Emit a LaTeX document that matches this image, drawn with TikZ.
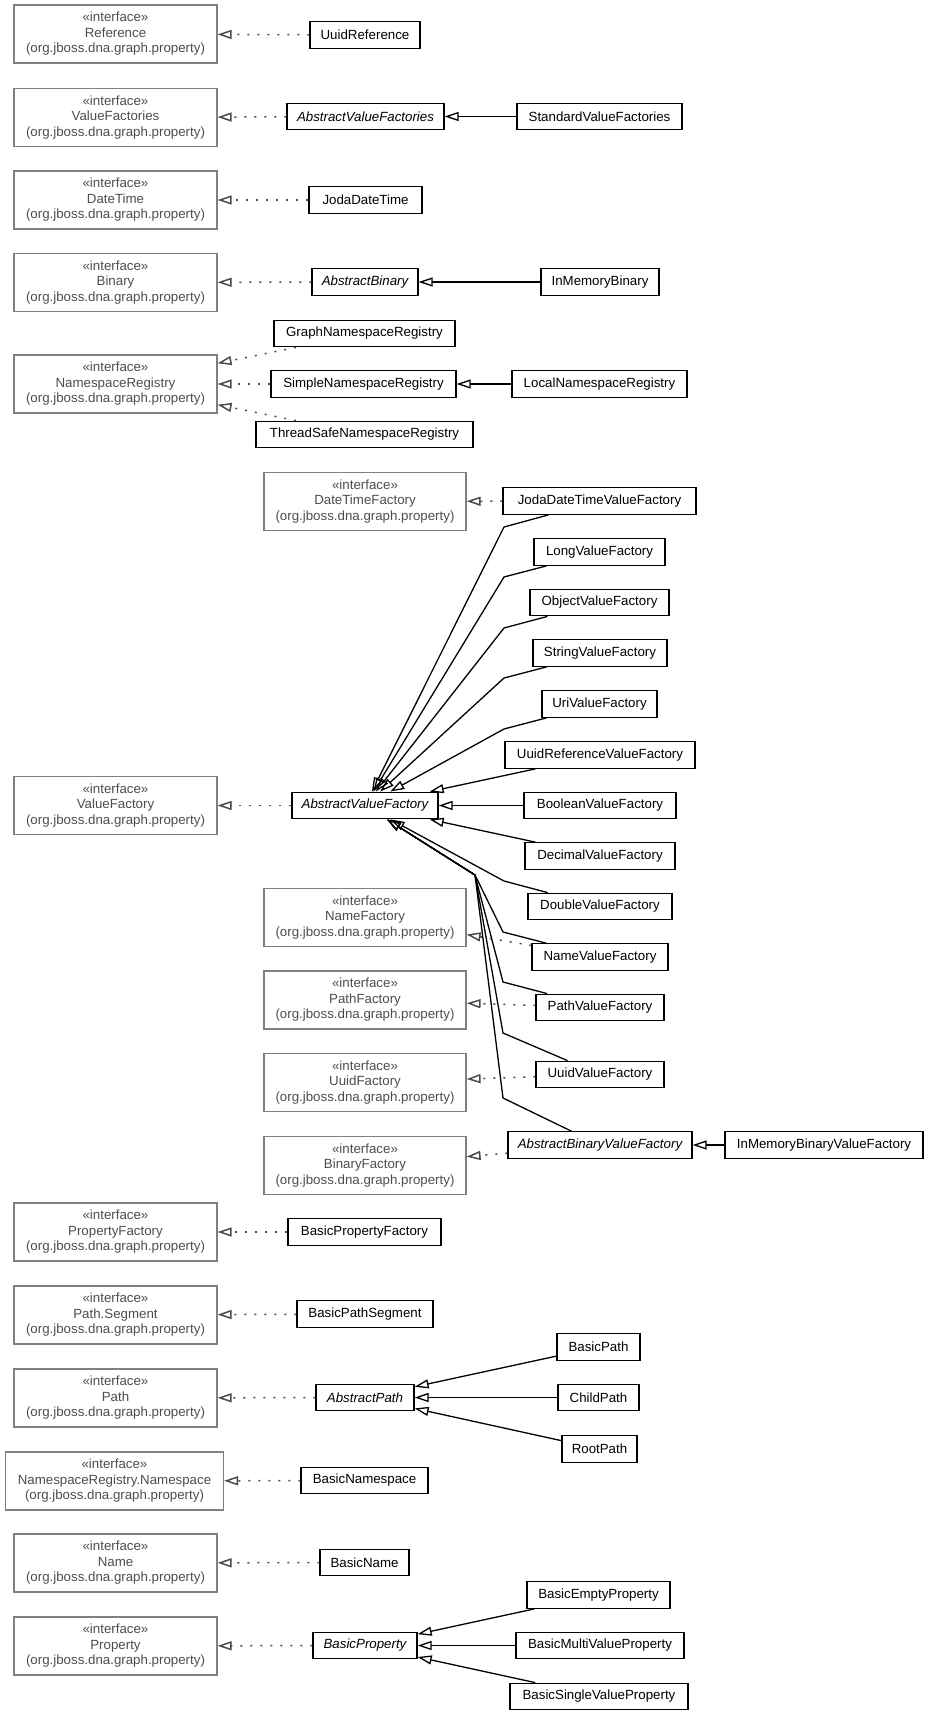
\documentclass[tikz,border=0pt]{standalone}
\usepackage{fontspec}
\setmainfont{Liberation Sans}
\usepackage{tikz}
\usetikzlibrary{arrows.meta,calc}
\definecolor{ifdraw}{HTML}{808080}
\definecolor{iftext}{HTML}{4D4D4D}
\definecolor{dotln}{HTML}{4A4A4A}
\newcommand{\ifacelabel}[1]{«interface»\\#1\\(org.jboss.dna.graph.property)}
\tikzset{
  iface/.style={rectangle, draw=ifdraw, line width=1.2pt, text=iftext, align=center,
                inner sep=0pt, minimum width=203pt, minimum height=58pt,
                font=\fontsize{13.3}{15.5}\selectfont},
  cls/.style={rectangle, draw=black, line width=1.3pt, align=center, inner sep=0pt,
              minimum height=26.5pt, font=\fontsize{13.3}{15.5}\selectfont},
  acls/.style={cls, font=\fontsize{13.3}{15.5}\selectfont\itshape},
  impl/.style={-{Triangle[open, length=14pt, width=9pt]}, draw=dotln, line width=1.5pt,
               dash pattern=on 2pt off 8pt},
  inh/.style={-{Triangle[open, length=14pt, width=9pt]}, draw=black, line width=1.3pt}
}
\begin{document}
\begin{tikzpicture}[x=1pt, y=-1pt]
\useasboundingbox (0,0) rectangle (928,1715);
% interfaces
\node[iface] (iref) at (115.5,34) {\ifacelabel{Reference}};
\node[iface] (ivfs) at (115.5,117.5) {\ifacelabel{ValueFactories}};
\node[iface] (idt) at (115.5,200) {\ifacelabel{DateTime}};
\node[iface] (ibin) at (115.5,282.5) {\ifacelabel{Binary}};
\node[iface] (insr) at (115.5,384) {\ifacelabel{NamespaceRegistry}};
\node[iface] (ivf) at (115.5,805.5) {\ifacelabel{ValueFactory}};
\node[iface] (ipf) at (115.5,1232) {\ifacelabel{PropertyFactory}};
\node[iface] (iseg) at (115.5,1315) {\ifacelabel{Path.Segment}};
\node[iface] (ipath) at (115.5,1398) {\ifacelabel{Path}};
\node[iface, minimum width=218pt] (ins) at (114.5,1481) {\ifacelabel{NamespaceRegistry.Namespace}};
\node[iface] (iname) at (115.5,1563) {\ifacelabel{Name}};
\node[iface] (iprop) at (115.5,1646) {\ifacelabel{Property}};
\node[iface, minimum width=202pt] (idtf) at (365,501.5) {\ifacelabel{DateTimeFactory}};
\node[iface, minimum width=202pt] (inf) at (365,917.5) {\ifacelabel{NameFactory}};
\node[iface, minimum width=202pt] (ipthf) at (365,1000) {\ifacelabel{PathFactory}};
\node[iface, minimum width=202pt] (iuf) at (365,1082.5) {\ifacelabel{UuidFactory}};
\node[iface, minimum width=202pt] (ibf) at (365,1165.5) {\ifacelabel{BinaryFactory}};
% classes
\node[cls, minimum width=110pt] (uref) at (365,35) {UuidReference};
\node[acls, minimum width=157pt] (avfs) at (365.5,116.5) {AbstractValueFactories};
\node[cls, minimum width=165pt] (svfs) at (599.5,116.5) {StandardValueFactories};
\node[cls, minimum width=113pt] (jdt) at (365.5,200) {JodaDateTime};
\node[acls, minimum width=106pt] (abin) at (365,282) {AbstractBinary};
\node[cls, minimum width=118pt] (imbin) at (600,282) {InMemoryBinary};
\node[cls, minimum width=181pt] (gnsr) at (364.5,333.5) {GraphNamespaceRegistry};
\node[cls, minimum width=185pt] (snsr) at (363.5,384) {SimpleNamespaceRegistry};
\node[cls, minimum width=175pt] (lnsr) at (599.5,384) {LocalNamespaceRegistry};
\node[cls, minimum width=217pt] (tnsr) at (364.5,434.5) {ThreadSafeNamespaceRegistry};
\node[cls, minimum width=193pt] (jdtvf) at (599.5,501) {JodaDateTimeValueFactory};
\node[cls, minimum width=131pt] (lvf) at (599.5,552) {LongValueFactory};
\node[cls, minimum width=139pt] (ovf) at (599.5,602.5) {ObjectValueFactory};
\node[cls, minimum width=134pt] (svf) at (600,653) {StringValueFactory};
\node[cls, minimum width=115pt] (urivf) at (599.5,704) {UriValueFactory};
\node[cls, minimum width=190pt] (urvf) at (600,755) {UuidReferenceValueFactory};
\node[acls, minimum width=146pt] (avf) at (365,805.5) {AbstractValueFactory};
\node[cls, minimum width=152pt] (bvf) at (600,805.5) {BooleanValueFactory};
\node[cls, minimum width=150pt] (dvf) at (600,856) {DecimalValueFactory};
\node[cls, minimum width=144pt] (dbvf) at (600,906.5) {DoubleValueFactory};
\node[cls, minimum width=136pt] (nvf) at (600,957) {NameValueFactory};
\node[cls, minimum width=128pt] (pvf) at (600,1007.5) {PathValueFactory};
\node[cls, minimum width=128pt] (uvf) at (600,1074.5) {UuidValueFactory};
\node[acls, minimum width=184pt] (abvf) at (600,1145) {AbstractBinaryValueFactory};
\node[cls, minimum width=198pt] (imbvf) at (824,1145) {InMemoryBinaryValueFactory};
\node[cls, minimum width=153pt] (bpf) at (364.5,1232) {BasicPropertyFactory};
\node[cls, minimum width=136pt] (bps) at (365,1314) {BasicPathSegment};
\node[acls, minimum width=98pt] (apath) at (365,1397.5) {AbstractPath};
\node[cls, minimum width=83pt] (bpath) at (598.5,1347) {BasicPath};
\node[cls, minimum width=81pt] (cpath) at (598.5,1397.5) {ChildPath};
\node[cls, minimum width=75pt] (rpath) at (599.5,1449) {RootPath};
\node[cls, minimum width=127pt] (bns) at (364.5,1480.5) {BasicNamespace};
\node[cls, minimum width=89pt] (bname) at (364.5,1562.5) {BasicName};
\node[acls, minimum width=104pt] (bprop) at (365,1645.5) {BasicProperty};
\node[cls, minimum width=143pt] (bep) at (598.5,1595) {BasicEmptyProperty};
\node[cls, minimum width=168pt] (bmvp) at (600,1645.5) {BasicMultiValueProperty};
\node[cls, minimum width=178pt] (bsvp) at (599,1696.5) {BasicSingleValueProperty};
% bend points of the value factory fan
\coordinate (bjdt) at (504,527);
\coordinate (blong) at (504,577);
\coordinate (bobj) at (504,628);
\coordinate (bstr) at (504,678);
\coordinate (buri) at (504,729);
\coordinate (bdbl) at (504,881);
\coordinate (fsplit) at (475,875);
\coordinate (bnmvf) at (503,932);
\coordinate (bpth) at (503,982);
\coordinate (buuid) at (503,1033);
\coordinate (babin) at (503,1098);
% realizations
\draw[impl] (uref) -- (iref); \draw[impl] (avfs) -- (ivfs);
\draw[impl] (jdt) -- (idt); \draw[impl] (abin) -- (ibin);
\draw[impl] (gnsr) -- (insr); \draw[impl] (snsr) -- (insr); \draw[impl] (tnsr) -- (insr);
\draw[impl] (jdtvf) -- (idtf); \draw[impl] (avf) -- (ivf);
\draw[impl] (nvf) -- (inf); \draw[impl] (pvf) -- (ipthf);
\draw[impl] (uvf) -- (iuf); \draw[impl] (abvf) -- (ibf);
\draw[impl] (bpf) -- (ipf); \draw[impl] (bps) -- (iseg);
\draw[impl] (apath) -- (ipath); \draw[impl] (bns) -- (ins);
\draw[impl] (bname) -- (iname); \draw[impl] (bprop) -- (iprop);
% generalizations
\draw[inh] (svfs) -- (avfs); \draw[inh] (imbin) -- (abin);
\draw[inh] (lnsr) -- (snsr); \draw[inh] (imbvf) -- (abvf);
\draw[inh] (jdtvf) -- (bjdt) -- (avf);
\draw[inh] (lvf) -- (blong) -- (avf);
\draw[inh] (ovf) -- (bobj) -- (avf);
\draw[inh] (svf) -- (bstr) -- (avf);
\draw[inh] (urivf) -- (buri) -- (avf);
\draw[inh] (urvf) -- (avf); \draw[inh] (bvf) -- (avf); \draw[inh] (dvf) -- (avf);
\draw[inh] (dbvf) -- (bdbl) -- (avf);
\draw[inh] (nvf) -- (bnmvf) -- (fsplit) -- (avf);
\draw[inh] (pvf) -- (bpth) -- (fsplit) -- (avf);
\draw[inh] (uvf) -- (buuid) -- (fsplit) -- (avf);
\draw[inh] (abvf) -- (babin) -- (fsplit) -- (avf);
\draw[inh] (bpath) -- (apath); \draw[inh] (cpath) -- (apath); \draw[inh] (rpath) -- (apath);
\draw[inh] (bep) -- (bprop); \draw[inh] (bmvp) -- (bprop); \draw[inh] (bsvp) -- (bprop);
\end{tikzpicture}
\end{document}
